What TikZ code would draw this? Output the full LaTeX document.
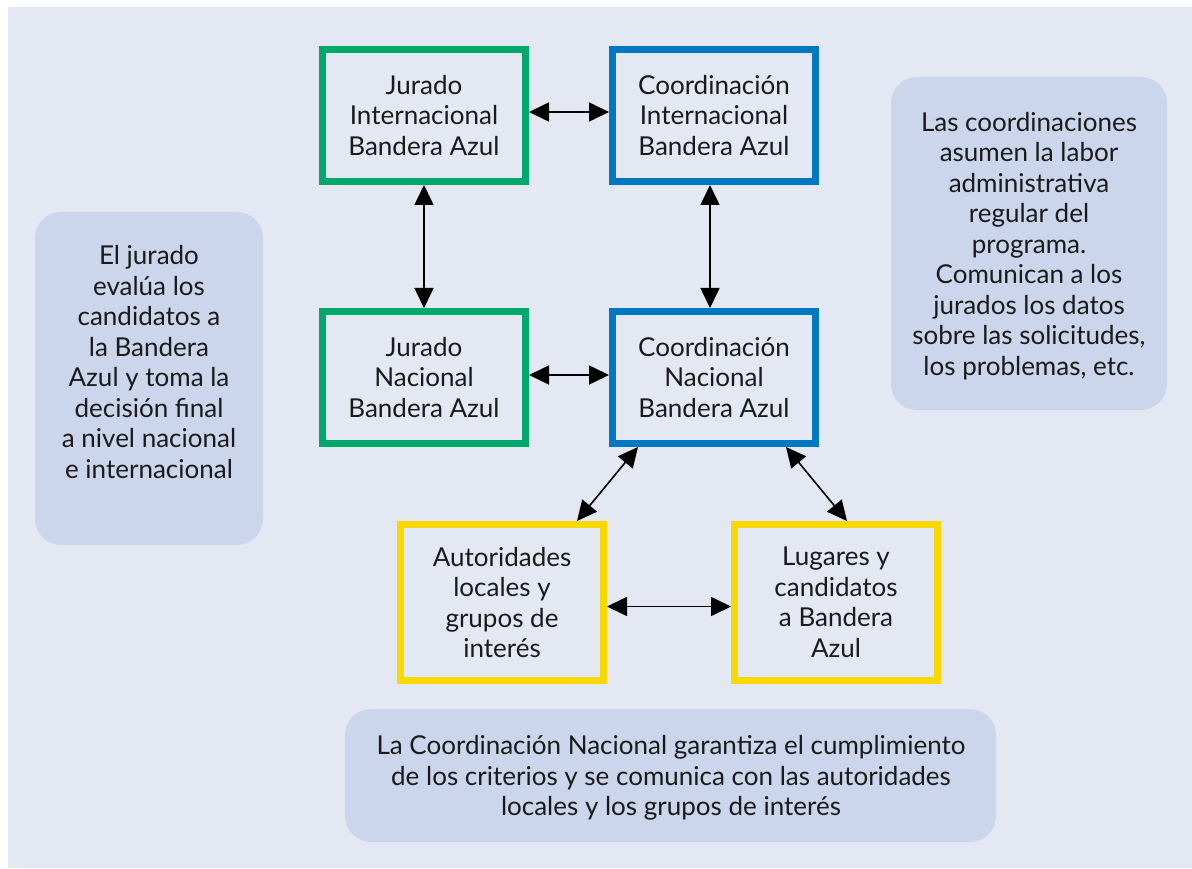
\documentclass[tikz,border=0pt]{standalone}
\usepackage{fontspec}
\setmainfont{Lato}
\usetikzlibrary{arrows.meta}
\definecolor{bgpanel}{HTML}{E4E8F3}
\definecolor{greybox}{HTML}{CBD5EB}
\definecolor{bagreen}{HTML}{00A86B}
\definecolor{bablue}{HTML}{0077C1}
\definecolor{bayellow}{HTML}{F7D900}
\definecolor{txt}{HTML}{1A1A1A}
\tikzset{
  orgbox/.style={draw=#1, line width=7pt, minimum width=203pt, minimum height=132pt,
    inner sep=0pt, align=center, text=txt, font=\fontsize{26}{30.5}\selectfont},
  tallbox/.style={orgbox=#1, minimum height=156pt},
  notebox/.style={fill=greybox, rounded corners=26pt},
  notetext/.style={align=center, text=txt, font=\fontsize{26}{30.5}\selectfont, inner sep=0pt},
  link/.style={line width=1.6pt, {Triangle[length=20pt,width=19pt]}-{Triangle[length=20pt,width=19pt]}}
}
\begin{document}
\begin{tikzpicture}[x=1pt,y=-1pt]
\useasboundingbox (0,0) rectangle (1192,869);
\fill[white] (0,0) rectangle (1192,869);
\fill[bgpanel] (8,7) rectangle (1192,868);
% note panels
\fill[notebox] (35,212) rectangle (263,545);
\fill[notebox] (891,77) rectangle (1167,410);
\fill[notebox] (345,709) rectangle (996,842);
\node[notetext] (lefttext) at (149,362) {El jurado\\evalúa los\\candidatos a\\la Bandera\\Azul y toma la\\decisión final\\a nivel nacional\\e internacional};
\node[notetext] (righttext) at (1029,246) {Las coordinaciones\\asumen la labor\\administrativa\\regular del\\programa.\\Comunican a los\\jurados los datos\\sobre las solicitudes,\\los problemas, etc.};
\node[notetext] (bottomtext) at (671,778) {La Coordinación Nacional garantiza el cumplimiento\\de los criterios y se comunica con las autoridades\\locales y los grupos de interés};
% boxes
\node[orgbox=bagreen] (ji) at (424,115.5) {Jurado\\Internacional\\Bandera Azul};
\node[orgbox=bablue] (ci) at (714,115.5) {Coordinación\\Internacional\\Bandera Azul};
\node[orgbox=bagreen] (jn) at (424,377.5) {Jurado\\Nacional\\Bandera Azul};
\node[orgbox=bablue] (cn) at (714,377.5) {Coordinación\\Nacional\\Bandera Azul};
\node[tallbox=bayellow] (aut) at (502,602.5) {Autoridades\\locales y\\grupos de\\interés};
\node[tallbox=bayellow] (lug) at (836,602.5) {Lugares y\\candidatos\\a Bandera\\Azul};
% connectors
\draw[link] ([yshift=3.5pt]ji.east) -- ([yshift=3.5pt]ci.west);
\draw[link] (ji.south) -- (jn.north);
\draw[link] ([xshift=-4pt]ci.south) -- ([xshift=-4pt]cn.south |- cn.north);
\draw[link] ([yshift=2.5pt]jn.east) -- ([yshift=2.5pt]cn.west);
\draw[link] ([xshift=-76pt]cn.south) -- ([xshift=75pt]aut.north);
\draw[link] ([xshift=72pt]cn.south) -- ([xshift=11pt]lug.north);
\draw[link] ([yshift=-4pt]aut.east) -- ([yshift=-4pt]lug.west);
\end{tikzpicture}
\end{document}
